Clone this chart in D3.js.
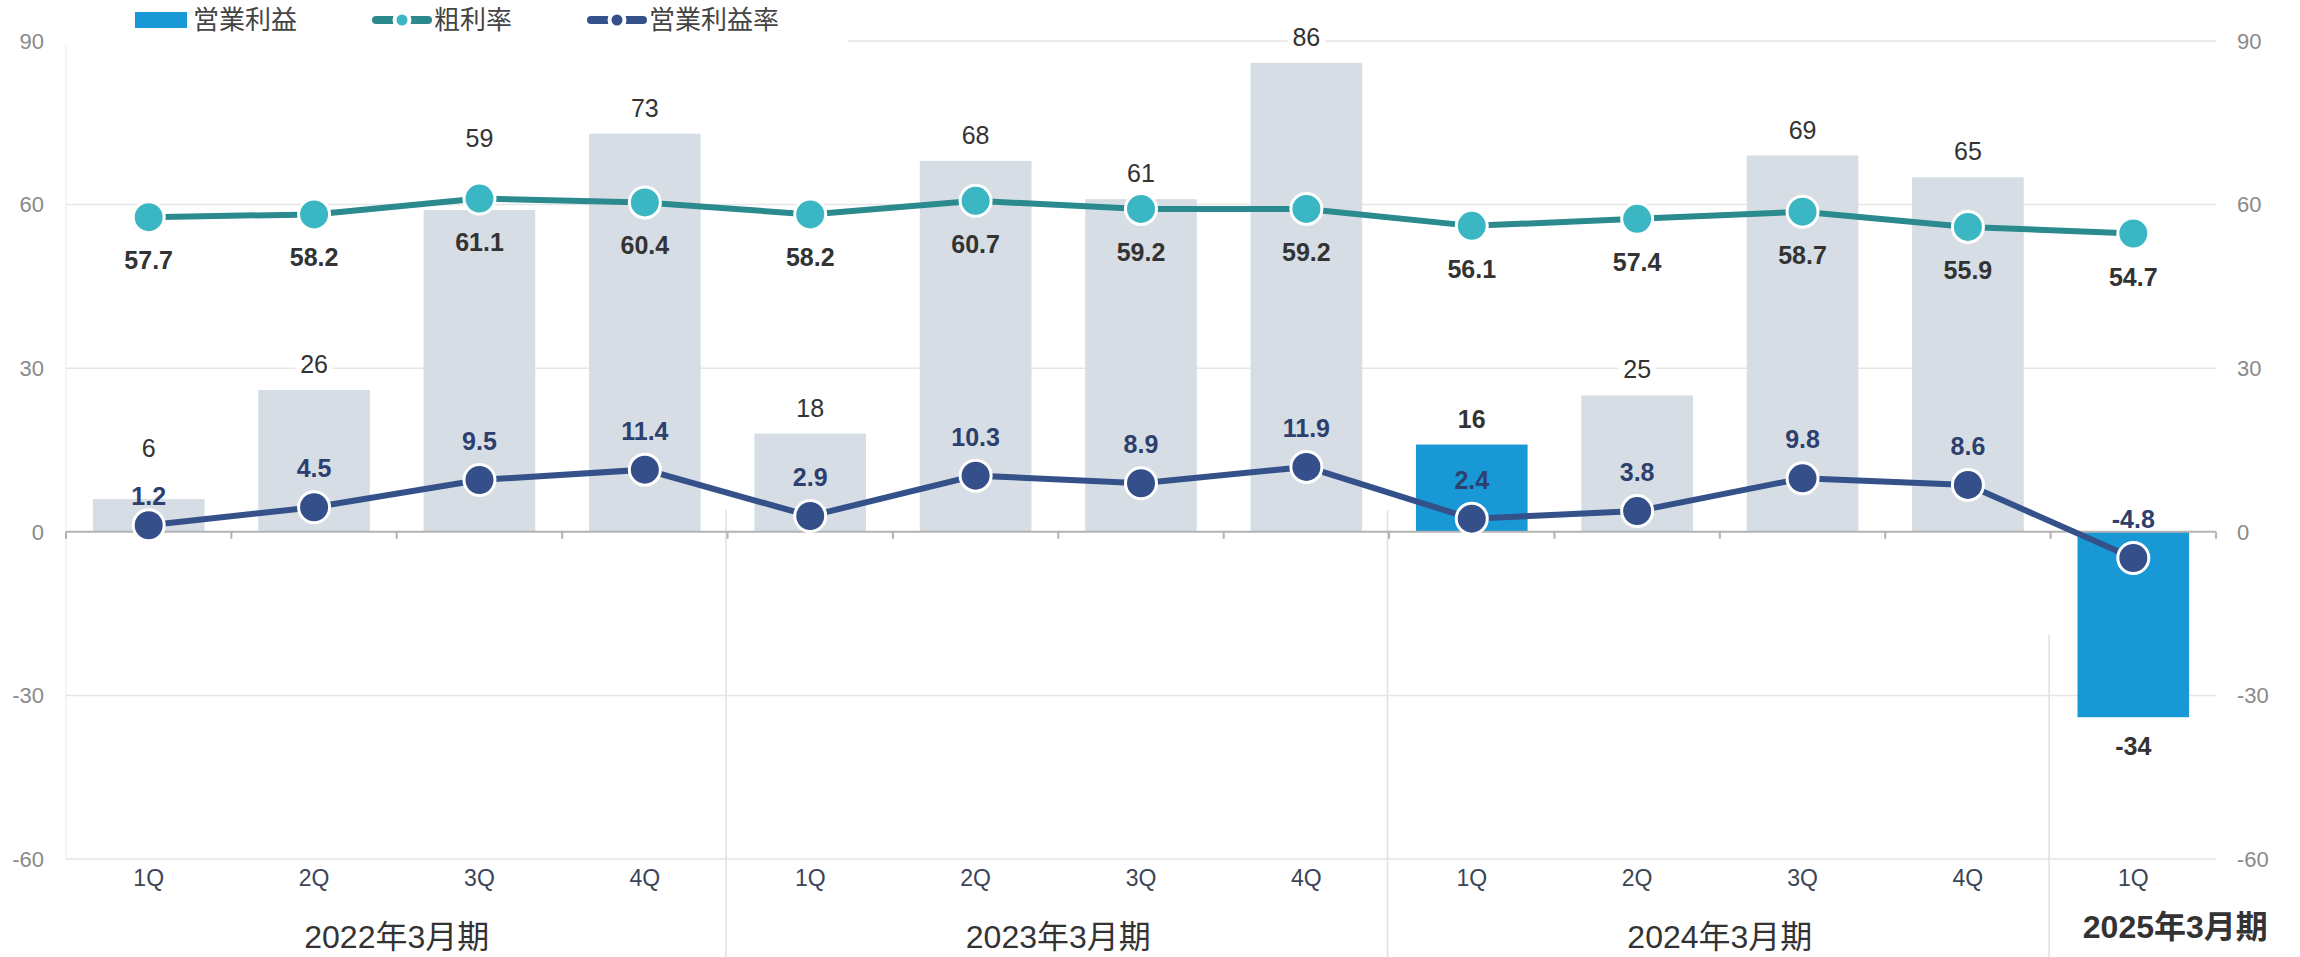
<!DOCTYPE html>
<html>
<head>
<meta charset="utf-8">
<script src="https://cdn.jsdelivr.net/npm/d3@7"></script>
<style>
body { margin: 0; background: #fff; }
text { font-family: "Liberation Sans", Arial, "Noto Sans CJK JP", sans-serif; }
</style>
</head>
<body>
<svg></svg>
<script>
var width = 2300
var height = 957

var quarters = ["1Q", "2Q", "3Q", "4Q", "1Q", "2Q", "3Q", "4Q", "1Q", "2Q", "3Q", "4Q", "1Q"]
var fiscalYears = ["2022年3月期", "2023年3月期", "2024年3月期", "2025年3月期"]
var quartersPerYear = [4, 4, 4, 1]
var operatingProfit = [6, 26, 59, 73, 18, 68, 61, 86, 16, 25, 69, 65, -34]
var grossMargin = [57.7, 58.2, 61.1, 60.4, 58.2, 60.7, 59.2, 59.2, 56.1, 57.4, 58.7, 55.9, 54.7]
var operatingMargin = [1.2, 4.5, 9.5, 11.4, 2.9, 10.3, 8.9, 11.9, 2.4, 3.8, 9.8, 8.6, -4.8]
var highlighted = [8, 12]
var yTicks = [-60, -30, 0, 30, 60, 90]

var plotLeft = 66, plotRight = 2216, plotTop = 41, plotBottom = 859

var svg = d3.select("svg")
    .attr("width", width)
    .attr("height", height)

var x = d3.scaleBand()
    .domain(d3.range(quarters.length))
    .range([plotLeft, plotRight])
    .paddingInner(0.325)
    .paddingOuter(0.1625)

var y = d3.scaleLinear()
    .domain([-60, 90])
    .range([plotBottom, plotTop])

var cx = i => x(i) + x.bandwidth() / 2
var boundary = k => plotLeft + k * x.step()

// faint left border
svg.append("line")
    .attr("x1", plotLeft).attr("x2", plotLeft)
    .attr("y1", plotTop).attr("y2", plotBottom)
    .attr("stroke", "#f1f1f1")
    .attr("stroke-width", 1.5)

// horizontal grid
svg.append("g")
    .selectAll("line")
    .data(yTicks.filter(d => d !== 0))
    .enter()
    .append("line")
    .attr("x1", plotLeft).attr("x2", plotRight)
    .attr("y1", d => y(d)).attr("y2", d => y(d))
    .attr("stroke", "#e5e5e5")
    .attr("stroke-width", 1.5)

// fiscal year separators
var starts = d3.cumsum(quartersPerYear)
var sepTops = [510, 510, 635]
svg.append("g")
    .selectAll("line")
    .data(Array.from(starts).slice(0, -1))
    .enter()
    .append("line")
    .attr("x1", d => boundary(d) - 1.5).attr("x2", d => boundary(d) - 1.5)
    .attr("y1", (d, i) => sepTops[i]).attr("y2", height)
    .attr("stroke", "#dde1e6")
    .attr("stroke-width", 1.5)

// bars
svg.append("g")
    .selectAll("rect")
    .data(operatingProfit)
    .enter()
    .append("rect")
    .attr("x", (d, i) => x(i))
    .attr("width", x.bandwidth())
    .attr("y", d => y(Math.max(0, d)))
    .attr("height", d => Math.abs(y(d) - y(0)))
    .attr("fill", (d, i) => highlighted.includes(i) ? "#1899d6" : "#d6dde4")

// zero axis with ticks
svg.append("line")
    .attr("x1", plotLeft).attr("x2", plotRight)
    .attr("y1", y(0)).attr("y2", y(0))
    .attr("stroke", "#b3b3b3")
    .attr("stroke-width", 2)

svg.append("g")
    .selectAll("line")
    .data(d3.range(quarters.length + 1))
    .enter()
    .append("line")
    .attr("x1", d => boundary(d)).attr("x2", d => boundary(d))
    .attr("y1", y(0)).attr("y2", y(0) + 7)
    .attr("stroke", "#b3b3b3")
    .attr("stroke-width", 2)

// quarter labels
svg.append("g")
    .selectAll("text")
    .data(quarters)
    .enter()
    .append("text")
    .attr("x", (d, i) => cx(i))
    .attr("y", 886)
    .attr("text-anchor", "middle")
    .attr("font-size", 23)
    .attr("fill", "#3a4557")
    .text(d => d)

// fiscal year labels
var lastYear = fiscalYears.length - 1
svg.append("g")
    .selectAll("text")
    .data(fiscalYears)
    .enter()
    .append("text")
    .attr("x", (d, i) => {
        var a = boundary(starts[i] - quartersPerYear[i])
        var b = i === lastYear ? width : boundary(starts[i])
        return (a + b) / 2
    })
    .attr("y", (d, i) => i === lastYear ? 938 : 948)
    .attr("text-anchor", "middle")
    .attr("font-size", 32)
    .attr("font-weight", (d, i) => i === lastYear ? "bold" : "normal")
    .attr("fill", "#333")
    .text(d => d)

// label positions, nudged where they would collide
var barLabelY = operatingProfit.map(v => v >= 0 ? y(v) - 17 : y(v) + 38)
var navyLabelY = operatingMargin.map(v => y(v) - 30)
var tealLabelY = grossMargin.map(v => y(v) + 52)

operatingProfit.forEach((v, i) => {
    if (v < 0) return
    var gy = y(grossMargin[i])
    if (barLabelY[i] + 2 > gy - 18 && barLabelY[i] - 19 < gy + 18) barLabelY[i] = gy - 52
    if (Math.abs(barLabelY[i] - navyLabelY[i]) < 22) {
        navyLabelY[i] += 10
        barLabelY[i] = navyLabelY[i] - 48
    }
})

// bar value labels with white background
var barLabels = svg.append("g")
    .selectAll("g")
    .data(operatingProfit)
    .enter()
    .append("g")

barLabels.append("text")
    .attr("x", (d, i) => cx(i))
    .attr("y", (d, i) => barLabelY[i])
    .attr("text-anchor", "middle")
    .attr("font-size", 25)
    .attr("font-weight", (d, i) => highlighted.includes(i) ? "bold" : "normal")
    .attr("fill", "#333")
    .text(d => d)

barLabels.each(function() {
    var bb = d3.select(this).select("text").node().getBBox()
    d3.select(this).insert("rect", "text")
        .attr("x", bb.x - 5).attr("y", bb.y)
        .attr("width", bb.width + 10).attr("height", bb.height)
        .attr("fill", "#fff")
})

// lines
var line = d3.line()
    .x((d, i) => cx(i))
    .y(d => y(d))

svg.append("path")
    .datum(grossMargin)
    .attr("d", line)
    .attr("fill", "none")
    .attr("stroke", "#2a8a8e")
    .attr("stroke-width", 6)

svg.append("path")
    .datum(operatingMargin)
    .attr("d", line)
    .attr("fill", "none")
    .attr("stroke", "#34518a")
    .attr("stroke-width", 6)

svg.append("g")
    .selectAll("circle")
    .data(grossMargin)
    .enter()
    .append("circle")
    .attr("cx", (d, i) => cx(i))
    .attr("cy", d => y(d))
    .attr("r", 15.5)
    .attr("fill", "#3ab7c2")
    .attr("stroke", "#fff")
    .attr("stroke-width", 3)

svg.append("g")
    .selectAll("circle")
    .data(operatingMargin)
    .enter()
    .append("circle")
    .attr("cx", (d, i) => cx(i))
    .attr("cy", d => y(d))
    .attr("r", 15.5)
    .attr("fill", "#344f89")
    .attr("stroke", "#fff")
    .attr("stroke-width", 3)

svg.append("g")
    .selectAll("text")
    .data(grossMargin)
    .enter()
    .append("text")
    .attr("x", (d, i) => cx(i))
    .attr("y", (d, i) => tealLabelY[i])
    .attr("text-anchor", "middle")
    .attr("font-size", 25)
    .attr("font-weight", "bold")
    .attr("fill", "#333")
    .text(d => d.toFixed(1))

svg.append("g")
    .selectAll("text")
    .data(operatingMargin)
    .enter()
    .append("text")
    .attr("x", (d, i) => cx(i))
    .attr("y", (d, i) => navyLabelY[i])
    .attr("text-anchor", "middle")
    .attr("font-size", 25)
    .attr("font-weight", "bold")
    .attr("fill", "#2d3f6e")
    .text(d => d.toFixed(1))

// legend
svg.append("rect")
    .attr("x", plotLeft - 2).attr("y", 0)
    .attr("width", 850 - plotLeft).attr("height", 46)
    .attr("fill", "#fff")

// y tick labels, drawn after the legend background
svg.append("g")
    .selectAll("text")
    .data(yTicks)
    .enter()
    .append("text")
    .attr("x", plotLeft - 22)
    .attr("y", d => y(d))
    .attr("dy", "0.35em")
    .attr("text-anchor", "end")
    .attr("font-size", 22)
    .attr("fill", "#8a8a8a")
    .text(d => d)

svg.append("g")
    .selectAll("text")
    .data(yTicks)
    .enter()
    .append("text")
    .attr("x", plotRight + 21)
    .attr("y", d => y(d))
    .attr("dy", "0.35em")
    .attr("text-anchor", "start")
    .attr("font-size", 22)
    .attr("fill", "#8a8a8a")
    .text(d => d)

var legend = svg.append("g")

legend.append("rect")
    .attr("x", 135).attr("y", 12)
    .attr("width", 52).attr("height", 16)
    .attr("fill", "#1899d6")

legend.append("text")
    .attr("x", 193).attr("y", 20)
    .attr("dy", "0.36em")
    .attr("font-size", 26)
    .attr("fill", "#444")
    .text("営業利益")

var lineKeys = [
    { x: 372, label: "粗利率", line: "#2a8a8e", dot: "#3ab7c2" },
    { x: 587, label: "営業利益率", line: "#34518a", dot: "#344f89" }
]

lineKeys.forEach(k => {
    legend.append("line")
        .attr("x1", k.x + 4).attr("x2", k.x + 56)
        .attr("y1", 20).attr("y2", 20)
        .attr("stroke", k.line)
        .attr("stroke-width", 8)
        .attr("stroke-linecap", "round")
    legend.append("circle")
        .attr("cx", k.x + 30).attr("cy", 20)
        .attr("r", 7.5)
        .attr("fill", k.dot)
        .attr("stroke", "#fff")
        .attr("stroke-width", 4)
    legend.append("text")
        .attr("x", k.x + 62).attr("y", 20)
        .attr("dy", "0.36em")
        .attr("font-size", 26)
        .attr("fill", "#444")
        .text(k.label)
})
</script>
</body>
</html>
